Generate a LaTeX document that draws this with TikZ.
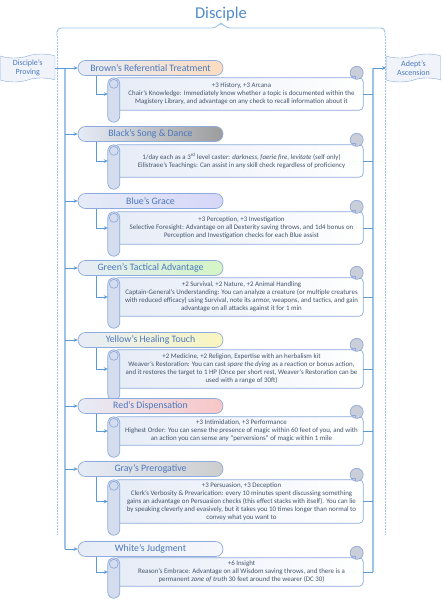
\documentclass[tikz,border=0pt]{standalone}
\usepackage{fontspec}
\setmainfont{Carlito}
\usetikzlibrary{arrows.meta,shapes.symbols,backgrounds}
\definecolor{lnblue}{HTML}{5B9BD5}
\definecolor{busblue}{HTML}{9DC3E6}
\definecolor{bdblue}{HTML}{8FAADC}
\definecolor{ttlblue}{HTML}{4A78BE}
\definecolor{hdblue}{HTML}{4F8ACB}
\definecolor{txtgray}{HTML}{44546A}
\definecolor{lightbg}{HTML}{E6ECF7}
\definecolor{rollbg}{HTML}{D4DDEE}
\definecolor{curlbg}{HTML}{C9CED8}
\definecolor{brownc}{HTML}{FCDCC0}
\definecolor{blackc}{HTML}{9C9C9C}
\definecolor{bluec}{HTML}{D6D6F8}
\definecolor{greenc}{HTML}{D4F5C4}
\definecolor{yellowc}{HTML}{FAF6BE}
\definecolor{redc}{HTML}{F8C6C6}
\definecolor{grayc}{HTML}{CDCDCD}
\definecolor{whitec}{HTML}{F6F7FA}

\begin{document}
\begin{tikzpicture}[x=1pt,y=-1pt,>={Stealth[length=4pt,width=3.6pt]},
  conn/.style={draw=lnblue,line width=0.8pt},
  bus/.style={draw=busblue,line width=1.6pt},
  brc/.style={draw=busblue,line width=0.9pt,rounded corners=4pt},
  dsh/.style={draw=busblue,line width=0.8pt,dash pattern=on 1.5pt off 1.5pt},
  side/.style={tape,tape bend height=4pt,draw=bdblue,fill=lightbg!60,minimum width=54.5pt,minimum height=28pt,inner sep=0pt,align=center,text=ttlblue,font=\fontsize{8}{9.5}\selectfont},
  ttl/.style={draw=bdblue,line width=0.7pt,rounded corners=7.5pt,left color=lightbg,right color=#1,minimum width=145pt,minimum height=15pt,inner sep=0pt,text=ttlblue,font=\fontsize{9.8}{11}\selectfont},
  scr/.style={minimum width=243pt,minimum height=#1,inner sep=0pt,align=center,text=txtgray,font=\fontsize{6.9}{8}\selectfont},
  bodysh/.style={draw=bdblue,line width=0.7pt,rounded corners=4pt,left color=lightbg,right color=white},
  rollsh/.style={draw=bdblue,line width=0.7pt,fill=rollbg},
  curlsh/.style={draw=bdblue,line width=0.7pt,fill=curlbg},
  hooksh/.style={draw=bdblue,line width=0.6pt}]
\useasboundingbox (0,0) rectangle (442,600);
% 标题与大括号
\node[font=\fontsize{16.5}{18}\selectfont,text=hdblue] (ttl) at (221,14) {Disciple};
\draw[brc] (57,36) -- (57,28) -- (216,28) -- (221,22) -- (226,28) -- (385,28) -- (385,36);
\draw[dsh] (57,36) -- (57,535);
\draw[dsh] (385,36) -- (385,535);
% 两侧的框
\node[side] (dp) at (27.75,68) {Disciple’s\\Proving};
\node[side] (ad) at (413.5,68) {Adept’s\\Ascension};
% 各项标题
\node[ttl=brownc] (t1) at (150.5,68) {Brown’s Referential Treatment};
\node[ttl=blackc] (t2) at (150.5,134) {Black’s Song \& Dance};
\node[ttl=bluec] (t3) at (150.5,201) {Blue’s Grace};
\node[ttl=greenc] (t4) at (150.5,268) {Green’s Tactical Advantage};
\node[ttl=yellowc] (t5) at (150.5,340) {Yellow’s Healing Touch};
\node[ttl=redc] (t6) at (150.5,406) {Red’s Dispensation};
\node[ttl=grayc] (t7) at (150.5,469) {Gray’s Prerogative};
\node[ttl=whitec] (t8) at (150.5,549) {White’s Judgment};
% 卷轴文字
\node[scr=32pt] (s1) at (241.5,94) {+3 History, +3 Arcana\\Chair’s Knowledge: Immediately know whether a topic is documented within the\\Magistery Library, and advantage on any check to recall information about it};
\node[scr=32pt] (s2) at (241.5,161) {1/day each as a 3\textsuperscript{rd} level caster: \textit{darkness}, \textit{faerie fire}, \textit{levitate} (self only)\\Eilistraee’s Teachings: Can assist in any skill check regardless of proficiency};
\node[scr=32pt] (s3) at (241.5,228) {+3 Perception, +3 Investigation\\Selective Foresight: Advantage on all Dexterity saving throws, and 1d4 bonus on\\Perception and Investigation checks for each Blue assist};
\node[scr=38pt] (s4) at (241.5,297) {+2 Survival, +2 Nature, +2 Animal Handling\\Captain-General’s Understanding: You can analyze a creature (or multiple creatures\\with reduced efficacy) using Survival, note its armor, weapons, and tactics, and gain\\advantage on all attacks against it for 1 min};
\node[scr=38pt] (s5) at (241.5,369) {+2 Medicine, +2 Religion, Expertise with an herbalism kit\\Weaver’s Restoration: You can cast \textit{spare the dying} as a reaction or bonus action,\\and it restores the target to 1 HP (Once per short rest, Weaver’s Restoration can be\\used with a range of 30ft)};
\node[scr=28pt] (s6) at (241.5,431) {+3 Intimidation, +3 Performance\\Highest Order: You can sense the presence of magic within 60 feet of you, and with\\an action you can sense any “perversions” of magic within 1 mile};
\node[scr=43pt] (s7) at (241.5,501.5) {+3 Persuasion, +3 Deception\\Clerk’s Verbosity \& Prevarication: every 10 minutes spent discussing something\\gains an advantage on Persuasion checks (this effect stacks with itself). You can lie\\by speaking cleverly and evasively, but it takes you 10 times longer than normal to\\convey what you want to};
\node[scr=28pt] (s8) at (241.5,572) {+6 Insight\\Reason’s Embrace: Advantage on all Wisdom saving throws, and there is a\\permanent \textit{zone of truth} 30 feet around the wearer (DC 30)};
% 卷轴外形
\begin{scope}[on background layer]
\foreach \i in {1,...,8} {
  \draw[bodysh] ([xshift=-6pt]s\i.north west) rectangle (s\i.south east);
  \draw[curlsh] ([xshift=-6.5pt,yshift=5pt]s\i.north east) circle (6.5pt);
  \draw[hooksh] ([xshift=-12pt,yshift=2pt]s\i.north east) -- ([xshift=-8pt,yshift=2pt]s\i.north east) -- ([xshift=-8pt,yshift=-1pt]s\i.north east);
  \draw[rollsh,rounded corners=6pt] ([xshift=-12pt]s\i.north west) rectangle ([yshift=-12pt]s\i.south west);
  \draw[rollsh] ([xshift=-6pt,yshift=-6pt]s\i.north west) circle (4.5pt);
}
\end{scope}
% 连线
\coordinate (lb) at (65,68);
\coordinate (rb) at (373,68);
\draw[bus] (lb) -- (lb |- t8.west);
\draw[bus] (rb) -- (rb |- s8.east);
\draw[conn,->] (dp.east) -- (t1.west);
\draw[conn,->] (rb) -- (ad.west);
\foreach \i in {2,...,8} \draw[conn,->] (lb |- t\i.west) -- (t\i.west);
\foreach \i in {1,...,8} {
  \draw[conn,->] ([xshift=-54.5pt]t\i.south) |- ([xshift=-12pt]s\i.west);
  \draw[conn] (s\i.east) -- (rb |- s\i.east);
}
\end{tikzpicture}
\end{document}
